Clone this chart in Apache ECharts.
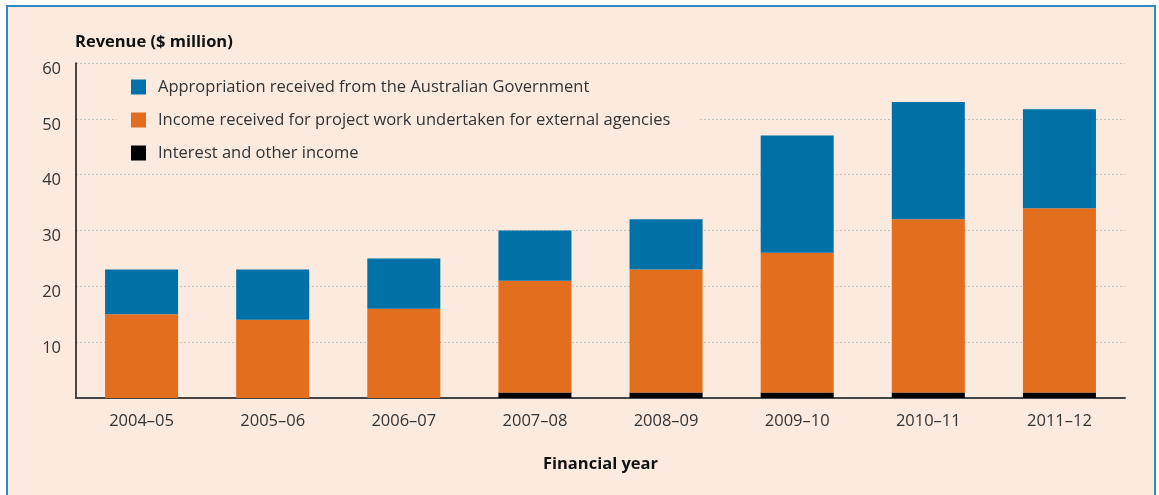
<!DOCTYPE html>
<html>
<head>
<meta charset="utf-8">
<script src="https://cdn.jsdelivr.net/npm/echarts@6/dist/echarts.min.js"></script>
<style>
html,body{margin:0;padding:0;background:#ffffff;}
#chart{width:1159px;height:495px;}
</style>
</head>
<body>
<div id="chart"></div>
<script>
const categories = ['2004–05','2005–06','2006–07','2007–08','2008–09','2009–10','2010–11','2011–12'];
const interestIncome = [0, 0, 0, 1, 1, 1, 1, 1];
const projectIncome = [15, 14, 16, 20, 22, 25, 31, 33];
const appropriation = [8, 9, 9, 9, 9, 21, 21, 17.7];
const yTicks = { min: 0, max: 60, interval: 10 };

const seriesNames = {
  appropriation: 'Appropriation received from the Australian Government',
  project: 'Income received for project work undertaken for external agencies',
  interest: 'Interest and other income'
};

const FONT = '"Open Sans", "Noto Sans", sans-serif';
const BG = '#fdeadf';

const chart = echarts.init(document.getElementById('chart'));
chart.setOption({
  backgroundColor: '#ffffff',
  animation: false,
  graphic: [{
    type: 'rect',
    z: -10,
    shape: { x: 7, y: 6, width: 1148, height: 500 },
    style: { fill: BG, stroke: '#2a8bc3', lineWidth: 2 }
  }],
  title: {
    text: 'Revenue ($ million)',
    left: 70,
    top: 29,
    textStyle: { fontFamily: FONT, fontSize: 16.5, fontWeight: 'bold', color: '#111' }
  },
  legend: {
    orient: 'vertical',
    left: 117,
    top: 68,
    padding: [9, 30, 9, 14],
    backgroundColor: BG,
    itemWidth: 15,
    itemHeight: 15,
    itemGap: 13,
    icon: 'rect',
    data: [seriesNames.appropriation, seriesNames.project, seriesNames.interest],
    textStyle: { fontFamily: FONT, fontSize: 16.5, color: '#333', lineHeight: 20, padding: [0, 0, 0, 7] },
    z: 10
  },
  grid: { left: 76, right: 34, top: 63, bottom: 97 },
  xAxis: {
    type: 'category',
    data: categories,
    name: 'Financial year',
    nameLocation: 'middle',
    nameGap: 58,
    nameTextStyle: { fontFamily: FONT, fontSize: 16.5, fontWeight: 'bold', color: '#111' },
    axisLine: { lineStyle: { color: '#444', width: 2 } },
    axisTick: { show: false },
    axisLabel: { margin: 15, fontFamily: FONT, fontSize: 16.5, color: '#333' }
  },
  yAxis: {
    type: 'value',
    min: yTicks.min,
    max: yTicks.max,
    interval: yTicks.interval,
    axisLine: { show: true, lineStyle: { color: '#111', width: 1.5 } },
    axisTick: { show: false },
    axisLabel: {
      showMinLabel: false,
      margin: 15,
      fontFamily: FONT, fontSize: 16.5, color: '#333',
      verticalAlign: 'top',
      lineHeight: 12
    },
    splitLine: { show: true, lineStyle: { color: '#c4c4c4', type: [2, 2], width: 1 } }
  },
  series: [
    {
      name: seriesNames.interest, type: 'bar', stack: 'rev', data: interestIncome,
      barWidth: '55.7%', itemStyle: { color: '#000000' }
    },
    {
      name: seriesNames.project, type: 'bar', stack: 'rev', data: projectIncome,
      barWidth: '55.7%', itemStyle: { color: '#e36f1e' }
    },
    {
      name: seriesNames.appropriation, type: 'bar', stack: 'rev', data: appropriation,
      barWidth: '55.7%', itemStyle: { color: '#0071a6' }
    }
  ]
});
</script>
</body>
</html>
